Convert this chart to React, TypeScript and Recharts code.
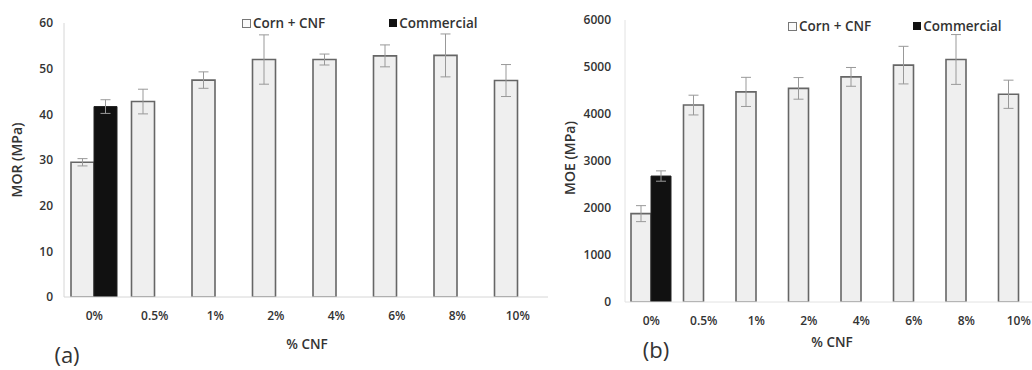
import React from 'react';
import { BarChart, Bar, XAxis, YAxis, ErrorBar } from 'recharts';

// CNF loading levels on the x axis
const categories = ['0%', '0.5%', '1%', '2%', '4%', '6%', '8%', '10%'];

// Modulus of rupture (MPa)
const morCorn = [29.5, 42.8, 47.5, 52.0, 52.0, 52.8, 52.9, 47.4];
const morCornErr = [0.8, 2.7, 1.8, 5.4, 1.2, 2.4, 4.7, 3.5];
const morCommercial = [41.7, null, null, null, null, null, null, null];
const morCommercialErr = [1.5, null, null, null, null, null, null, null];
const morTicks = [0, 10, 20, 30, 40, 50, 60];

// Modulus of elasticity (MPa)
const moeCorn = [1880, 4190, 4470, 4545, 4790, 5040, 5160, 4420];
const moeCornErr = [170, 210, 310, 230, 200, 400, 530, 300];
const moeCommercial = [2680, null, null, null, null, null, null, null];
const moeCommercialErr = [110, null, null, null, null, null, null, null];
const moeTicks = [0, 1000, 2000, 3000, 4000, 5000, 6000];

const FONT = '"Open Sans", "DejaVu Sans", sans-serif';
const TEXT = '#333333';

const build = (corn: number[], cornErr: number[], com: (number | null)[], comErr: (number | null)[]) =>
  categories.map((c, i) => ({
    name: c,
    corn: corn[i],
    cornErr: cornErr[i],
    commercial: com[i],
    commercialErr: comErr[i],
  }));

const morData = build(morCorn, morCornErr, morCommercial, morCommercialErr);
const moeData = build(moeCorn, moeCornErr, moeCommercial, moeCommercialErr);

const tickStyle = { fontFamily: FONT, fontSize: 12, fontWeight: 600, fill: TEXT };

const Legend = ({ left, top, gap }: { left: number; top: number; gap: number }) => (
  <div
    style={{
      position: 'absolute',
      left,
      top,
      display: 'flex',
      alignItems: 'center',
      fontFamily: FONT,
      fontSize: 13.5,
      fontWeight: 600,
      color: TEXT,
      lineHeight: '16px',
      whiteSpace: 'nowrap',
    }}
  >
    <span style={{ width: 7, height: 7, border: '1px solid #777', background: '#fafafa', marginRight: 2 }} />
    <span>Corn + CNF</span>
    <span style={{ width: 8, height: 8, background: '#111', marginLeft: gap, marginRight: 2 }} />
    <span>Commercial</span>
  </div>
);

const Label = ({ x, y, text, size, weight, rotate }: { x: number; y: number; text: string; size: number; weight: number; rotate?: boolean }) => (
  <div
    style={{
      position: 'absolute',
      left: x,
      top: y,
      transform: `translate(-50%, -50%)${rotate ? ' rotate(-90deg)' : ''}`,
      fontFamily: FONT,
      fontSize: size,
      fontWeight: weight,
      color: TEXT,
      whiteSpace: 'nowrap',
      lineHeight: 1,
    }}
  >
    {text}
  </div>
);

type PanelProps = {
  data: ReturnType<typeof build>;
  ticks: number[];
  width: number;
  top: number;
  bottom: number;
  yWidth: number;
  yMargin: number;
  barSize: number;
  axisColor: string;
};

const Panel = ({ data, ticks, width, top, bottom, yWidth, yMargin, barSize, axisColor }: PanelProps) => (
  <BarChart
    width={width}
    height={370}
    data={data}
    margin={{ top, right: 10, bottom: 0, left: 0 }}
    barGap={0}
    barSize={barSize}
  >
    <XAxis
      dataKey="name"
      tickLine={false}
      axisLine={{ stroke: axisColor, strokeWidth: 1 }}
      tick={tickStyle}
      tickMargin={8}
      height={370 - bottom}
      interval={0}
    />
    <YAxis
      domain={[ticks[0], ticks[ticks.length - 1]]}
      ticks={ticks}
      tickLine={false}
      axisLine={{ stroke: axisColor, strokeWidth: 1 }}
      tick={tickStyle}
      tickMargin={yMargin}
      width={yWidth}
      allowDataOverflow
    />
    <Bar dataKey="corn" fill="#efefef" stroke="#666666" strokeWidth={1.6} isAnimationActive={false}>
      <ErrorBar dataKey="cornErr" width={5} stroke="#999999" strokeWidth={1} direction="y" />
    </Bar>
    <Bar dataKey="commercial" fill="#111111" stroke="#222222" strokeWidth={1} isAnimationActive={false}>
      <ErrorBar dataKey="commercialErr" width={5} stroke="#999999" strokeWidth={1} direction="y" />
    </Bar>
  </BarChart>
);

export default function App() {
  return (
    <div style={{ position: 'absolute', left: 0, top: 0, width: 1032, height: 370, overflow: 'hidden', background: '#fff' }}>
      {/* (a) MOR panel */}
      <div style={{ position: 'absolute', left: 0, top: 0 }}>
        <Panel data={morData} ticks={morTicks} width={558} top={23} bottom={297} yWidth={64} yMargin={5} barSize={23} axisColor="#d6d6d6" />
      </div>
      {/* (b) MOE panel */}
      <div style={{ position: 'absolute', left: 560, top: 0 }}>
        <Panel data={moeData} ticks={moeTicks} width={495} top={20} bottom={302} yWidth={65} yMargin={8} barSize={20} axisColor="#e2e2e2" />
      </div>

      <Legend left={242} top={15} gap={64} />
      <Legend left={788} top={18} gap={42} />

      <Label x={17} y={160} text="MOR (MPa)" size={14} weight={600} rotate />
      <Label x={570} y={158} text="MOE (MPa)" size={14} weight={600} rotate />
      <Label x={307} y={345} text="% CNF" size={13.5} weight={600} />
      <Label x={832} y={343} text="% CNF" size={13.5} weight={600} />
      <Label x={67} y={354} text="(a)" size={22} weight={400} />
      <Label x={656} y={349} text="(b)" size={22} weight={400} />
    </div>
  );
}
